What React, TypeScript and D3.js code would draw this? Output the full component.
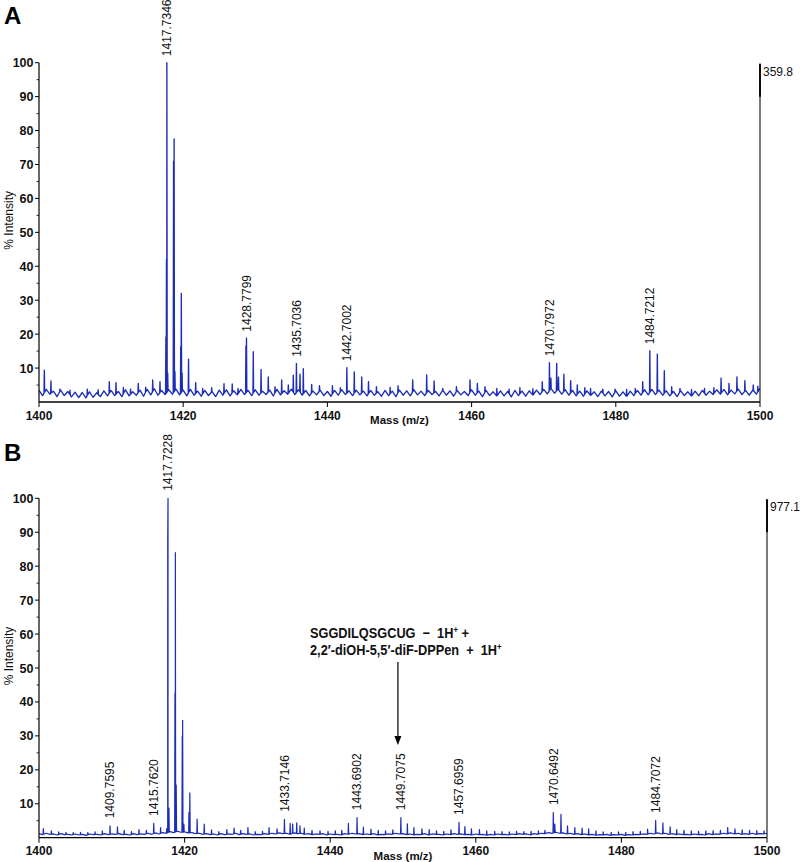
import React from 'react';
import * as d3 from 'd3';

// ---------- shared axis data ----------
const X_TICKS = [1400, 1420, 1440, 1460, 1480, 1500];
const Y_TICKS = [10, 20, 30, 40, 50, 60, 70, 80, 90, 100];
const Y_MINOR = [5, 15, 25, 35, 45, 55, 65, 75, 85, 95];
const MZ_START = 1400;
const MZ_STEP = 0.5;

// ---------- panel A ----------
const baselineA = [
  3.4, 1.9, 3.7, 2.3, 3.2, 1.6, 3.5, 1.9, 3.1, 1.5,
  2.9, 1.3, 2.8, 1.2, 3.0, 1.4, 2.7, 1.6, 3.3, 1.8,
  3.4, 1.9, 3.1, 1.6, 3.6, 1.8, 3.0, 2.0, 3.5, 1.7,
  3.7, 2.1, 3.9, 2.0, 3.4, 2.2, 3.6, 2.3, 3.8, 2.1,
  3.5, 1.8, 3.7, 2.0, 3.2, 1.7, 3.4, 1.9, 3.1, 1.6,
  3.5, 2.0, 3.6, 1.8, 3.3, 2.1, 3.7, 2.2, 3.4, 1.9,
  3.6, 2.0, 3.2, 2.2, 3.5, 1.8, 3.7, 2.1, 3.3, 2.3,
  3.8, 2.2, 3.6, 2.0, 3.4, 1.8, 3.2, 2.1, 3.5, 1.9,
  3.1, 1.7, 3.4, 2.0, 3.6, 2.2, 3.3, 1.9, 3.5, 2.1,
  3.2, 1.8, 3.4, 2.0, 3.0, 1.7, 3.4, 1.9, 3.2, 1.6,
  3.5, 2.0, 3.3, 1.8, 3.6, 2.1, 3.2, 1.9, 3.4, 2.2,
  3.1, 1.8, 3.5, 2.0, 3.3, 1.7, 3.4, 2.1, 3.1, 1.9,
  3.6, 2.0, 3.2, 1.6, 3.4, 1.9, 3.0, 1.7, 3.3, 1.8,
  3.1, 1.5, 3.4, 1.9, 3.2, 1.7, 3.3, 2.0, 3.5, 2.2,
  3.7, 2.4, 4.0, 2.6, 3.8, 2.3, 3.6, 2.0, 3.4, 1.8,
  3.2, 1.7, 3.3, 1.9, 3.0, 1.6, 3.2, 1.8, 3.1, 1.5,
  3.3, 1.7, 3.0, 1.6, 3.2, 1.9, 3.4, 2.0, 3.6, 2.1,
  3.7, 2.2, 3.5, 2.0, 3.3, 1.8, 3.1, 1.6, 3.3, 1.9,
  3.0, 1.7, 3.2, 1.8, 3.4, 2.0, 3.2, 2.2, 3.6, 2.3,
  3.7, 2.1, 3.5, 2.4, 3.8, 2.2, 3.4, 2.0, 3.6, 2.3,
  4.0,
];

const peaksA: [number, number][] = [
  [1400.74, 9.4], [1401.66, 6.2], [1402.9, 3.8], [1404.3, 3.5], [1406.7, 3.8], [1408.2, 3.6],
  [1409.75, 6.0], [1410.68, 5.7], [1411.7, 4.3], [1412.7, 3.8], [1413.77, 5.5], [1414.8, 4.4],
  [1415.77, 6.5], [1416.78, 6.0],
  [1417.6, 19.2], [1417.68, 42], [1417.7346, 100], [1417.85, 8.5],
  [1418.66, 71], [1418.74, 77.5], [1418.85, 9],
  [1419.66, 16.3], [1419.74, 32], [1419.85, 8.5],
  [1420.74, 12.6], [1421.73, 5.7], [1422.7, 4.0], [1423.95, 4.2], [1425.66, 5.4], [1426.8, 5.3], [1427.6, 4.0],
  [1428.7, 16.5], [1428.7799, 18.8], [1429.72, 14.8], [1430.8, 9.6], [1431.8, 7.4], [1432.73, 4.5],
  [1433.66, 6.5], [1434.58, 5.0], [1435.27, 7.9], [1435.7036, 11.4], [1436.2, 8.2], [1436.66, 9.8],
  [1437.82, 5.2], [1438.9, 4.8], [1440.7, 4.8], [1441.8, 4.2],
  [1442.7002, 10.1], [1443.73, 8.9], [1444.76, 7.4], [1445.7, 6.0], [1446.8, 4.5], [1448.7, 4.3],
  [1449.8, 4.8], [1451.83, 6.5], [1453.77, 8.0], [1454.8, 6.2], [1456.0, 4.0], [1457.9, 4.5],
  [1459.78, 6.5], [1460.8, 5.5], [1461.86, 4.5], [1463.5, 4.0], [1465.2, 3.8], [1466.7, 4.2], [1468.5, 3.9],
  [1469.8, 6.0], [1470.7972, 11.6], [1471.0, 7.0], [1471.8, 11.4], [1472.05, 7.3], [1472.8, 8.2],
  [1473.74, 6.3], [1474.66, 5.0], [1475.7, 4.2], [1476.5, 4.0], [1478.2, 3.8], [1479.9, 3.8],
  [1481.5, 3.7], [1482.7, 4.0], [1483.73, 6.0], [1484.7212, 15.1], [1485.76, 14.1], [1486.73, 9.2],
  [1487.75, 4.5], [1488.9, 4.0], [1490.5, 3.7], [1492.3, 4.0], [1493.6, 4.2], [1494.6, 7.0],
  [1495.7, 5.5], [1496.8, 7.4], [1497.9, 6.3], [1499.07, 5.0], [1499.7, 4.7],
];

const labelsA = ['1417.7346', '1428.7799', '1435.7036', '1442.7002', '1470.7972', '1484.7212'];
const fullScaleA = '359.8';

// ---------- panel B ----------
const baselineB = [
  1.2, 0.9, 1.3, 1.0, 1.1, 0.8, 1.2, 0.9, 1.0, 0.8,
  1.1, 0.8, 1.0, 0.7, 1.1, 0.9, 1.0, 0.8, 1.2, 0.9,
  1.1, 1.0, 1.2, 0.9, 1.0, 0.8, 1.2, 0.9, 1.1, 1.0,
  1.3, 1.0, 1.4, 1.1, 1.5, 1.3, 1.8, 1.5, 1.9, 1.6,
  1.7, 1.4, 1.5, 1.2, 1.3, 1.0, 1.2, 0.9, 1.1, 0.8,
  1.2, 0.9, 1.1, 1.0, 1.3, 0.9, 1.2, 1.0, 1.1, 0.8,
  1.0, 0.9, 1.2, 1.0, 1.3, 1.1, 1.4, 1.2, 1.3, 1.0,
  1.4, 1.2, 1.3, 1.0, 1.2, 0.9, 1.1, 1.0, 1.2, 0.8,
  1.1, 0.9, 1.0, 0.8, 1.2, 1.0, 1.3, 1.1, 1.2, 0.9,
  1.1, 0.9, 1.2, 0.8, 1.0, 0.9, 1.1, 1.0, 1.3, 1.1,
  1.2, 0.9, 1.1, 0.8, 1.0, 0.9, 1.2, 0.8, 1.1, 1.0,
  1.0, 0.8, 1.1, 0.9, 1.2, 1.0, 1.1, 0.9, 1.0, 0.8,
  1.1, 0.9, 1.0, 0.7, 1.0, 0.8, 1.1, 0.9, 1.0, 0.8,
  1.1, 0.9, 1.2, 1.0, 1.1, 0.8, 1.2, 1.0, 1.3, 1.2,
  1.5, 1.3, 1.6, 1.3, 1.4, 1.1, 1.3, 1.0, 1.2, 0.9,
  1.1, 0.8, 1.0, 0.7, 0.9, 0.8, 1.0, 0.7, 0.9, 0.8,
  1.0, 0.7, 0.9, 0.8, 1.0, 0.9, 1.1, 1.0, 1.3, 1.1,
  1.4, 1.1, 1.3, 1.0, 1.2, 0.9, 1.1, 0.9, 1.0, 0.8,
  1.1, 0.9, 1.0, 0.8, 1.2, 0.9, 1.1, 1.0, 1.3, 1.1,
  1.4, 1.1, 1.3, 1.0, 1.2, 1.0, 1.3, 1.0, 1.2, 1.1,
  1.3,
];

const peaksB: [number, number][] = [
  [1400.6, 2.7], [1401.7, 2.0], [1402.7, 1.7], [1403.7, 1.6], [1404.7, 1.5], [1405.7, 1.6],
  [1406.7, 1.5], [1407.7, 1.7], [1408.7, 2.0], [1409.7595, 3.5], [1410.78, 3.2], [1411.7, 2.2],
  [1412.7, 1.8], [1413.74, 2.4], [1414.75, 2.2], [1415.762, 4.2], [1416.7, 3.0], [1417.55, 2.7],
  [1417.68, 87], [1417.7228, 100], [1417.85, 8.7],
  [1418.68, 42.6], [1418.73, 84], [1418.85, 15.5],
  [1419.68, 30], [1419.73, 34.6], [1419.9, 4.0],
  [1420.6, 7.5], [1420.72, 13.2], [1421.72, 5.5], [1422.7, 4.0], [1423.7, 2.3], [1424.7, 1.8],
  [1425.8, 2.4], [1426.8, 2.8], [1427.7, 2.2], [1428.7, 3.0], [1429.7, 1.8], [1430.7, 1.9],
  [1431.6, 3.0], [1432.7, 2.6], [1433.7146, 5.4], [1434.5, 4.2], [1434.84, 4.0], [1435.4, 4.4],
  [1435.85, 3.5], [1436.44, 2.8], [1437.5, 2.2], [1438.6, 2.0], [1439.7, 1.9], [1440.7, 2.0],
  [1441.6, 2.2], [1442.5, 4.2], [1443.6902, 5.9], [1444.56, 3.1], [1445.6, 2.5], [1446.6, 2.2],
  [1447.6, 2.0], [1448.6, 2.3], [1449.7075, 5.9], [1450.6, 4.1], [1451.5, 3.0], [1452.6, 2.6],
  [1453.6, 2.4], [1454.6, 2.0], [1455.6, 1.9], [1456.6, 2.3], [1457.6959, 4.5], [1458.5, 3.3],
  [1459.4, 2.6], [1460.5, 2.4], [1461.5, 2.0], [1462.6, 1.9], [1463.6, 1.8], [1464.6, 1.7],
  [1465.6, 1.9], [1466.6, 1.8], [1467.6, 1.9], [1468.6, 2.0], [1469.5, 2.2], [1470.6492, 7.4],
  [1470.85, 4.0], [1471.7, 6.9], [1472.6, 3.5], [1473.6, 3.0], [1474.6, 2.8], [1475.5, 2.6],
  [1476.5, 2.0], [1477.5, 1.7], [1478.6, 1.6], [1479.6, 1.7], [1480.6, 1.6], [1481.6, 1.8],
  [1482.6, 1.9], [1483.6, 2.5], [1484.7072, 5.1], [1485.7, 4.4], [1486.7, 3.2], [1487.6, 2.4],
  [1488.6, 2.2], [1489.6, 2.0], [1490.6, 1.9], [1491.6, 2.0], [1492.6, 2.1], [1493.6, 2.2],
  [1494.6, 3.0], [1495.6, 2.6], [1496.6, 2.3], [1497.6, 2.2], [1498.6, 2.1], [1499.6, 2.0],
];

const labelsB = ['1409.7595', '1415.7620', '1417.7228', '1433.7146', '1443.6902', '1449.7075', '1457.6959', '1470.6492', '1484.7072'];
const fullScaleB = '977.1';
const annotationLine1 = ['SGGDILQSGCUG', '  \u2212  1H', '+', ' +'];
const annotationLine2 = ['2,2\u2032-diOH-5,5\u2032-diF-DPPen  +  1H', '+'];
const arrowMz = 1449.3;

// ---------- helpers ----------
const FONT = '"Liberation Sans", Arial, Helvetica, sans-serif';
const TRACE = '#1c2db8';

function buildPoints(baseline: number[], peaks: [number, number][], w = 0.045): [number, number][] {
  const base = (mz: number) => {
    const i = (mz - MZ_START) / MZ_STEP;
    const i0 = Math.max(0, Math.min(baseline.length - 1, Math.floor(i)));
    const i1 = Math.min(baseline.length - 1, i0 + 1);
    const t = Math.max(0, Math.min(1, i - i0));
    return baseline[i0] + (baseline[i1] - baseline[i0]) * t;
  };
  const pts: [number, number][] = [];
  baseline.forEach((v, i) => {
    const mz = MZ_START + i * MZ_STEP;
    if (!peaks.some((p) => Math.abs(p[0] - mz) < w * 1.6)) pts.push([mz, v]);
  });
  peaks.forEach(([mz, h]) => {
    pts.push([mz - w, base(mz - w)], [mz, h], [mz + w, base(mz + w)]);
  });
  pts.sort((a, b) => a[0] - b[0]);
  return pts;
}

type PanelProps = {
  letter: string;
  letterY: number;
  x0: number;
  x1: number;
  yBase: number;
  yTop: number;
  baseline: number[];
  peaks: [number, number][];
  labels: string[];
  fullScale: string;
  labelGap: number;
  strokeW: number;
  children?: (x: d3.ScaleLinear<number, number>, y: d3.ScaleLinear<number, number>) => React.ReactNode;
};

function Panel(p: PanelProps) {
  const x = d3.scaleLinear().domain([1400, 1500]).range([p.x0, p.x1]);
  const y = d3.scaleLinear().domain([0, 100]).range([p.yBase, p.yTop]);
  const pts = buildPoints(p.baseline, p.peaks);
  const line = d3
    .line<[number, number]>()
    .x((d) => x(d[0]))
    .y((d) => y(d[1]));
  const midY = (y(0) + y(100)) / 2;
  return (
    <g>
      <text x={4} y={p.letterY} fontFamily={FONT} fontWeight="bold" fontSize={24} fill="#000">
        {p.letter}
      </text>
      {/* spectrum trace */}
      <path d={line(pts) || ''} fill="none" stroke={TRACE} strokeWidth={p.strokeW} strokeLinejoin="round" />
      {/* left axis */}
      <line x1={p.x0} x2={p.x0} y1={y(0)} y2={y(100)} stroke="#000" strokeWidth={1.2} />
      {Y_TICKS.map((t) => (
        <g key={'yt' + t}>
          <line x1={p.x0 - 4} x2={p.x0} y1={y(t)} y2={y(t)} stroke="#000" strokeWidth={1} />
          <text
            x={p.x0 - 5.5}
            y={y(t)}
            dy="0.36em"
            textAnchor="end"
            fontFamily={FONT}
            fontWeight="bold"
            fontSize={12.5}
            fill="#111"
          >
            {t}
          </text>
        </g>
      ))}
      {Y_MINOR.map((t) => (
        <line key={'ym' + t} x1={p.x0 - 2.5} x2={p.x0} y1={y(t)} y2={y(t)} stroke="#000" strokeWidth={0.8} />
      ))}
      <text
        transform={`translate(12.5,${midY - 12}) rotate(-90)`}
        textAnchor="middle"
        fontFamily={FONT}
        fontSize={12}
        fill="#111"
      >
        % Intensity
      </text>
      {/* bottom axis */}
      <line x1={p.x0} x2={p.x1} y1={y(0)} y2={y(0)} stroke="#000" strokeWidth={1.3} />
      {X_TICKS.map((t) => (
        <g key={'xt' + t}>
          <line x1={x(t)} x2={x(t)} y1={y(0)} y2={y(0) + 5} stroke="#000" strokeWidth={1} />
          <text
            x={x(t)}
            y={y(0) + 17.5}
            textAnchor="middle"
            fontFamily={FONT}
            fontWeight="bold"
            fontSize={12}
            fill="#111"
          >
            {t}
          </text>
        </g>
      ))}
      <text
        x={(p.x0 + p.x1) / 2}
        y={y(0) + 22}
        textAnchor="middle"
        fontFamily={FONT}
        fontWeight="bold"
        fontSize={11.5}
        fill="#111"
      >
        Mass (m/z)
      </text>
      {/* right full-scale marker */}
      <line x1={p.x1} x2={p.x1} y1={y(0)} y2={y(100) + 1} stroke="#222" strokeWidth={1.2} />
      <line x1={p.x1} x2={p.x1} y1={y(100) + 1} y2={y(90)} stroke="#000" strokeWidth={1.8} />
      <text x={p.x1 + 3} y={y(100) + 13} fontFamily={FONT} fontSize={12} fill="#111">
        {p.fullScale}
      </text>
      {/* peak labels */}
      {p.labels.map((lab) => {
        const mz = parseFloat(lab);
        const pk = p.peaks.reduce((best, q) => (Math.abs(q[0] - mz) < Math.abs(best[0] - mz) ? q : best), p.peaks[0]);
        const px = x(mz);
        const py = y(pk[1]) - p.labelGap;
        return (
          <text
            key={lab}
            transform={`translate(${px},${py}) rotate(-90)`}
            dy="0.36em"
            fontFamily={FONT}
            fontSize={12}
            fill="#111"
          >
            {lab}
          </text>
        );
      })}
      {p.children ? p.children(x, y) : null}
    </g>
  );
}

export default function App() {
  return (
    <svg
      width={800}
      height={862}
      viewBox="0 0 800 862"
      style={{ position: 'absolute', left: 0, top: 0, background: '#fff' }}
    >
      <rect x={0} y={0} width={800} height={862} fill="#fff" />
      <Panel
        letter="A"
        letterY={24}
        x0={39}
        x1={760}
        yBase={402}
        yTop={62.7}
        baseline={baselineA}
        peaks={peaksA}
        labels={labelsA}
        fullScale={fullScaleA}
        labelGap={6.5}
        strokeW={1.35}
      />
      <Panel
        letter="B"
        letterY={461}
        x0={39}
        x1={767}
        yBase={837.7}
        yTop={498.3}
        baseline={baselineB}
        peaks={peaksB}
        labels={labelsB}
        fullScale={fullScaleB}
        labelGap={7.5}
        strokeW={1.2}
      >
        {(x) => {
          const ax = x(arrowMz);
          return (
            <g>
              <g transform="translate(310,638) scale(0.88,1)">
                <text fontFamily={FONT} fontWeight="bold" fontSize={14.5} fill="#111" xmlSpace="preserve" style={{ whiteSpace: 'pre' }}>
                  {annotationLine1[0]}
                  {annotationLine1[1]}
                  <tspan fontSize={9} dy={-5}>{annotationLine1[2]}</tspan>
                  <tspan dy={5}>{annotationLine1[3]}</tspan>
                </text>
              </g>
              <g transform="translate(310,655) scale(0.88,1)">
                <text fontFamily={FONT} fontWeight="bold" fontSize={14.5} fill="#111" xmlSpace="preserve" style={{ whiteSpace: 'pre' }}>
                  {annotationLine2[0]}
                  <tspan fontSize={9} dy={-5}>{annotationLine2[1]}</tspan>
                </text>
              </g>
              <line x1={ax} x2={ax} y1={662} y2={737} stroke="#000" strokeWidth={1.2} />
              <path d={`M${ax - 3.5},${736} L${ax + 3.5},${736} L${ax},${745} Z`} fill="#000" />
            </g>
          );
        }}
      </Panel>
    </svg>
  );
}
